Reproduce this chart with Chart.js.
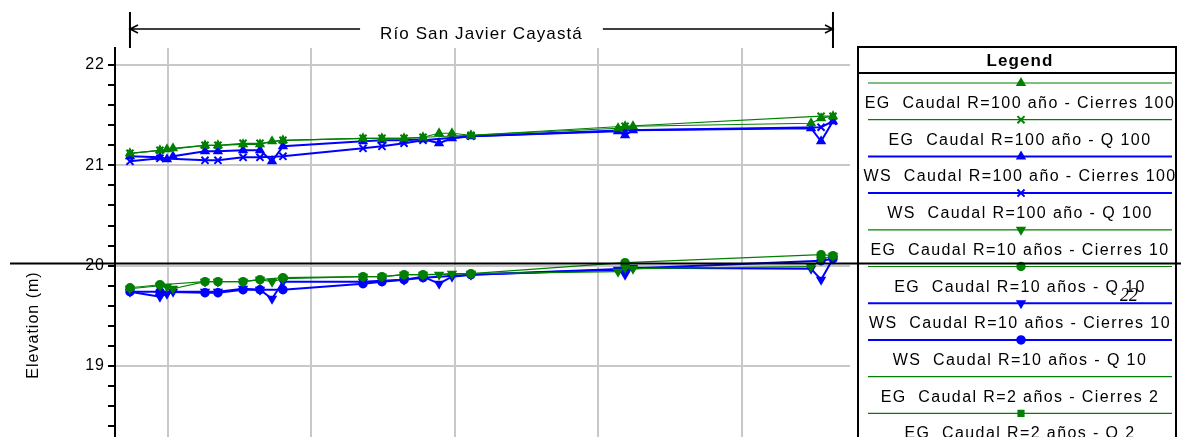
<!DOCTYPE html>
<html>
<head>
<meta charset="utf-8">
<script src="https://cdn.jsdelivr.net/npm/chart.js@4.4.1/dist/chart.umd.min.js"></script>
<style>
  html, body { margin: 0; padding: 0; background: #fff; overflow: hidden; }
  #marco { width: 1181px; height: 437px; overflow: hidden; position: relative; }
</style>
</head>
<body>
<div id="marco"><canvas id="grafico" width="1181" height="640"></canvas></div>
<script>
const titulo = 'Río San Javier Cayastá';
const tituloEjeY = 'Elevation (m)';
const fuente = '"Liberation Sans", Arial, sans-serif';

// distancia por el cauce principal (m)
const ticksX = [1000, 2000, 3000, 4000, 5000];
const estCierres = [735, 944, 993, 1035, 1258, 1348, 1523, 1641, 1725, 1801, 2359, 2491, 2645, 2777, 2889, 2979, 3111, 4136, 4185, 4240, 5481, 5551, 5634];
const estQ = [735, 944, 1258, 1348, 1523, 1641, 1801, 2359, 2491, 2645, 2777, 3111, 4185, 5551, 5634];

// elevaciones (m)
const egCierres100 = [21.12, 21.15, 21.16, 21.17, 21.20, 21.20, 21.21, 21.21, 21.24, 21.25, 21.27, 21.27, 21.27, 21.28, 21.32, 21.32, 21.30, 21.37, 21.39, 21.39, 21.42, 21.47, 21.49];
const egQ100 = [21.12, 21.15, 21.20, 21.20, 21.22, 21.22, 21.25, 21.27, 21.27, 21.27, 21.28, 21.30, 21.39, 21.49, 21.49];
const wsCierres100 = [21.09, 21.08, 21.06, 21.09, 21.14, 21.14, 21.15, 21.15, 21.04, 21.19, 21.24, 21.25, 21.25, 21.26, 21.22, 21.27, 21.29, 21.34, 21.30, 21.35, 21.37, 21.24, 21.44];
const wsQ100 = [21.04, 21.07, 21.05, 21.05, 21.08, 21.08, 21.09, 21.17, 21.19, 21.22, 21.25, 21.29, 21.35, 21.38, 21.44];
const egCierres10 = [19.77, 19.80, 19.79, 19.77, 19.84, 19.84, 19.84, 19.86, 19.84, 19.87, 19.89, 19.89, 19.91, 19.91, 19.91, 19.92, 19.92, 19.94, 19.98, 19.97, 19.99, 20.06, 20.10];
const egQ10 = [19.78, 19.81, 19.84, 19.84, 19.84, 19.86, 19.88, 19.89, 19.89, 19.91, 19.91, 19.92, 20.03, 20.11, 20.10];
const wsCierres10 = [19.74, 19.69, 19.72, 19.74, 19.74, 19.74, 19.77, 19.76, 19.67, 19.84, 19.84, 19.85, 19.86, 19.89, 19.82, 19.89, 19.91, 19.96, 19.91, 19.98, 19.97, 19.86, 20.07];
const wsQ10 = [19.74, 19.74, 19.73, 19.73, 19.76, 19.76, 19.76, 19.82, 19.84, 19.86, 19.88, 19.91, 19.97, 20.05, 20.07];
// R=2: quedan fuera del recorte
const egCierres2 = [];
const egQ2 = [];

const verde = '#008000';
const azul = '#0000ff';

function puntos(est, vals) {
    return vals.map((v, i) => ({ x: est[i], y: v }));
}

function serie(label, est, vals, color, ancho, estilo, extra) {
    return Object.assign({
        label: label,
        data: puntos(est, vals),
        borderColor: color,
        backgroundColor: color,
        borderWidth: ancho,
        pointStyle: estilo,
        pointRadius: 4.5,
        pointBorderWidth: 1.5,
        pointRotation: 0,
        fill: false,
        tension: 0
    }, extra || {});
}

const datasets = [
    serie('EG  Caudal R=100 año - Cierres 100', estCierres, egCierres100, verde, 1.2, 'triangle'),
    serie('EG  Caudal R=100 año - Q 100', estQ, egQ100, verde, 1.2, 'crossRot', { pointRadius: 5, pointBorderWidth: 2 }),
    serie('WS  Caudal R=100 año - Cierres 100', estCierres, wsCierres100, azul, 2, 'triangle'),
    serie('WS  Caudal R=100 año - Q 100', estQ, wsQ100, azul, 2, 'crossRot', { pointRadius: 5, pointBorderWidth: 2 }),
    serie('EG  Caudal R=10 años - Cierres 10', estCierres, egCierres10, verde, 1.2, 'triangle', { pointRotation: 180 }),
    serie('EG  Caudal R=10 años - Q 10', estQ, egQ10, verde, 1.2, 'circle', { pointRadius: 4 }),
    serie('WS  Caudal R=10 años - Cierres 10', estCierres, wsCierres10, azul, 2, 'triangle', { pointRotation: 180 }),
    serie('WS  Caudal R=10 años - Q 10', estQ, wsQ10, azul, 2, 'circle', { pointRadius: 4 }),
    serie('EG  Caudal R=2 años - Cierres 2', estCierres, egCierres2, verde, 1.2, 'circle', { pointRadius: 0 }),
    serie('EG  Caudal R=2 años - Q 2', estQ, egQ2, verde, 1.2, 'rect', { pointRadius: 4 })
];

function entero(v) { return Math.abs(v - Math.round(v)) < 1e-6; }

function flecha(ctx, desde, hasta, y) {
    const dir = hasta > desde ? 1 : -1;
    ctx.beginPath();
    ctx.moveTo(desde, y);
    ctx.lineTo(hasta, y);
    ctx.moveTo(hasta - dir * 8, y - 4);
    ctx.lineTo(hasta, y);
    ctx.lineTo(hasta - dir * 8, y + 4);
    ctx.stroke();
}

const decoracion = {
    id: 'decoracion',
    beforeDraw(chart) {
        chart.ctx.letterSpacing = '1px';
    },
    afterDraw(chart) {
        const ctx = chart.ctx;
        const sx = chart.scales.x, sy = chart.scales.y;
        ctx.save();

        // titulo con flechas
        const x0 = sx.getPixelForValue(estCierres[0]);
        const x1 = sx.getPixelForValue(estCierres[estCierres.length - 1]);
        const xc = (x0 + x1) / 2;
        ctx.font = '17px ' + fuente;
        ctx.letterSpacing = '1.1px';
        ctx.fillStyle = '#000';
        ctx.textAlign = 'center';
        ctx.textBaseline = 'alphabetic';
        ctx.fillText(titulo, xc, 39);
        const medio = ctx.measureText(titulo).width / 2 + 20;
        ctx.strokeStyle = '#000';
        ctx.lineWidth = 2;
        ctx.beginPath();
        ctx.moveTo(x0, 12); ctx.lineTo(x0, 48);
        ctx.moveTo(x1, 12); ctx.lineTo(x1, 48);
        ctx.stroke();
        ctx.lineWidth = 1.5;
        flecha(ctx, xc - medio, x0, 29);
        flecha(ctx, xc + medio, x1, 29);

        // leyenda
        const lx = 858, lr = 1176, ly = 47;
        ctx.lineWidth = 2;
        ctx.strokeStyle = '#000';
        ctx.strokeRect(lx, ly, lr - lx, 700);
        ctx.beginPath();
        ctx.moveTo(lx, 73); ctx.lineTo(lr, 73);
        ctx.stroke();
        ctx.font = 'bold 17px ' + fuente;
        ctx.fillText('Legend', 1020, 66);
        ctx.font = '16px ' + fuente;
        ctx.letterSpacing = '1.4px';
        chart.data.datasets.forEach((ds, i) => {
            const yl = 83 + i * 36.7;
            ctx.strokeStyle = ds.borderColor;
            ctx.fillStyle = ds.backgroundColor;
            ctx.lineWidth = ds.borderWidth;
            ctx.beginPath();
            ctx.moveTo(868, yl); ctx.lineTo(1172, yl);
            ctx.stroke();
            if (ds.pointRadius > 0) {
                ctx.lineWidth = ds.pointBorderWidth;
                Chart.helpers.drawPoint(ctx, {
                    pointStyle: ds.pointStyle,
                    rotation: ds.pointRotation,
                    radius: ds.pointRadius,
                    borderWidth: ds.pointBorderWidth
                }, 1021, yl);
            }
            ctx.fillStyle = '#000';
            ctx.fillText(ds.label, 1020, yl + 25);
        });

        // texto suelto
        ctx.letterSpacing = '0px';
        ctx.font = 'italic 18px "Liberation Serif", serif';
        ctx.textAlign = 'left';
        ctx.fillText('22', 1120, 301);

        // linea negra horizontal
        const y20 = Math.round(sy.getPixelForValue(20)) - 3;
        ctx.strokeStyle = '#000';
        ctx.lineWidth = 2;
        ctx.beginPath();
        ctx.moveTo(10, y20 + 0.5); ctx.lineTo(1181, y20 + 0.5);
        ctx.stroke();

        ctx.restore();
    }
};

new Chart(document.getElementById('grafico').getContext('2d'), {
    type: 'line',
    data: { datasets: datasets },
    options: {
        responsive: false,
        animation: false,
        layout: { padding: { top: 48, left: 0, right: 331, bottom: 0 } },
        plugins: { legend: { display: false }, tooltip: { enabled: false } },
        scales: {
            x: {
                type: 'linear',
                min: 630.7,
                max: 5752.6,
                afterFit(s) { s.height = 38; },
                afterBuildTicks(s) { s.ticks = ticksX.map(v => ({ value: v })); },
                ticks: { color: '#000', font: { size: 16, family: fuente } },
                grid: { color: '#c8c8c8', lineWidth: 2, drawTicks: false },
                border: { color: '#000', width: 2 }
            },
            y: {
                min: 16.647,
                max: 22.17,
                afterFit(s) { s.width = 115; },
                ticks: {
                    stepSize: 0.2,
                    includeBounds: false,
                    autoSkip: false,
                    padding: 3,
                    color: '#000',
                    font: { size: 16, family: fuente },
                    callback: v => entero(v) ? String(Math.round(v)) : ''
                },
                grid: {
                    color: c => (c.tick && entero(c.tick.value)) ? '#c8c8c8' : 'rgba(0,0,0,0)',
                    tickColor: '#000',
                    lineWidth: 2,
                    tickLength: 7
                },
                border: { color: '#000', width: 2 },
                title: {
                    display: true,
                    text: tituloEjeY,
                    color: '#000',
                    font: { size: 16, family: fuente },
                    padding: { top: 24, bottom: 0 }
                }
            }
        }
    },
    plugins: [decoracion]
});
</script>
</body>
</html>
